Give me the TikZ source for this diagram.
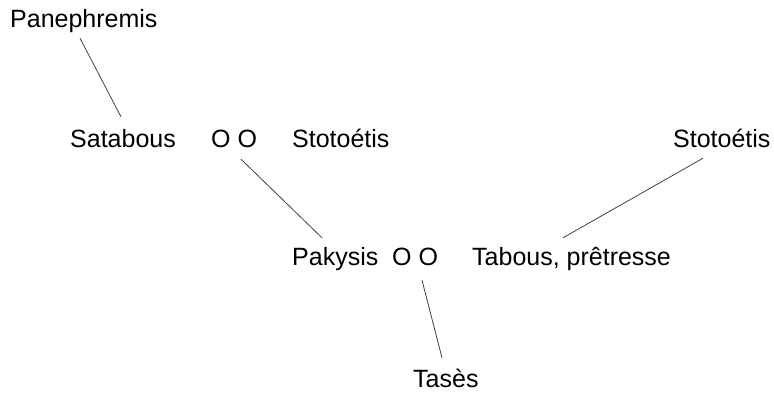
\documentclass[tikz,border=0pt]{standalone}
\usepackage{fontspec}
\setmainfont{Liberation Sans}
\usepackage{tikz}
\tikzstyle{person} = [anchor=base west, 
inner sep=0pt, 
text height=18pt, 
text depth=5pt, 
font=\fontsize{25}{30}\selectfont]
\tikzstyle{link} = [draw=black!75, line width=0.8pt]

\begin{document}
\begin{tikzpicture}[x=1pt, y=-1pt]
\useasboundingbox (0,0) rectangle (774,397);

\node (pan) [person] at (10,27) {Panephremis};

\node (sat) [person] at (70,147) {Satabous};
\node (oo1) [person] at (211,147) {O O};
\node (sto1) [person] at (292,147) {Stotoétis};
\node (sto2) [person] at (673,147) {Stotoétis};

\node (pak) [person] at (292,265) {Pakysis};
\node (oo2) [person] at (392,265) {O O};
\node (tab) [person] at (472,265) {Tabous, prêtresse};

\node (tas) [person] at (413,387) {Tasès};

\draw [link] ([xshift=70pt, yshift=-6pt]pan.south west) -- ([xshift=51pt, yshift=12pt]sat.north west);
\draw [link] ([xshift=30pt, yshift=-7pt]oo1.south west) -- ([xshift=30pt, yshift=9pt]pak.north west);
\draw [link] ([xshift=30pt, yshift=-6pt]sto2.south west) -- ([xshift=91pt, yshift=9pt]tab.north west);
\draw [link] ([xshift=30pt, yshift=-10pt]oo2.south west) -- ([xshift=29pt, yshift=11pt]tas.north west);
\end{tikzpicture}
\end{document}
